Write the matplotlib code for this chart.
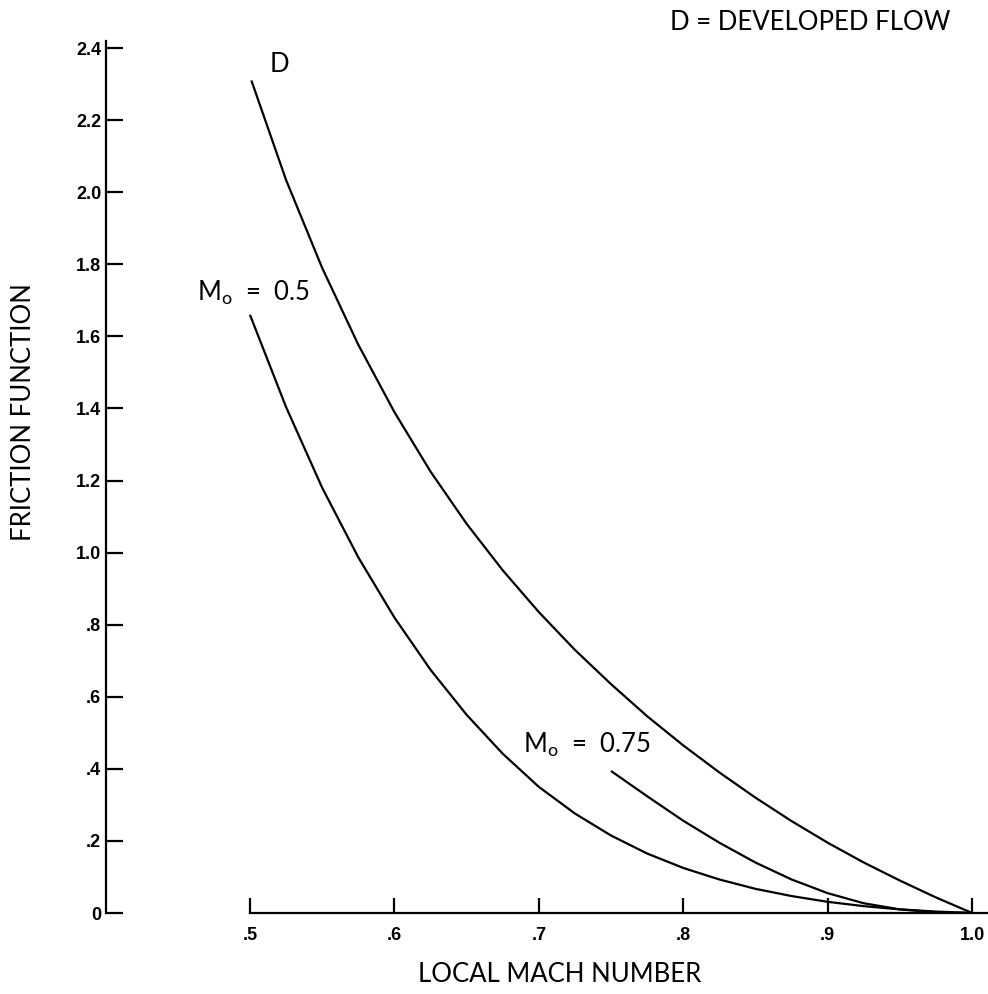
import matplotlib
matplotlib.use('Agg')
import matplotlib.pyplot as plt
from matplotlib.font_manager import FontProperties

# ---- data ----
x_ticks = [0.5, 0.6, 0.7, 0.8, 0.9, 1.0]
x_ticklabels = ['.5', '.6', '.7', '.8', '.9', '1.0']
y_ticks = [0, 0.2, 0.4, 0.6, 0.8, 1.0, 1.2, 1.4, 1.6, 1.8, 2.0, 2.2, 2.4]
y_ticklabels = ['0', '.2', '.4', '.6', '.8', '1.0', '1.2', '1.4', '1.6', '1.8', '2.0', '2.2', '2.4']

# developed flow curve (D)
d_mach = [0.501, 0.525, 0.55, 0.575, 0.60, 0.625, 0.65, 0.675, 0.70, 0.725, 0.75,
          0.775, 0.80, 0.825, 0.85, 0.875, 0.90, 0.925, 0.95, 0.975, 1.0]
d_fric = [2.310, 2.034, 1.790, 1.577, 1.390, 1.225, 1.080, 0.951, 0.835, 0.730, 0.635,
          0.546, 0.465, 0.390, 0.320, 0.255, 0.195, 0.140, 0.090, 0.043, 0.0]

# M_o = 0.5 curve
m05_mach = [0.50, 0.525, 0.55, 0.575, 0.60, 0.625, 0.65, 0.675, 0.70, 0.725, 0.75,
            0.775, 0.80, 0.825, 0.85, 0.875, 0.90, 0.925, 0.95, 0.975, 1.0]
m05_fric = [1.660, 1.404, 1.180, 0.987, 0.820, 0.675, 0.550, 0.442, 0.350, 0.276, 0.215,
            0.165, 0.125, 0.093, 0.067, 0.047, 0.031, 0.019, 0.010, 0.004, 0.0]

# M_o = 0.75 curve
m075_mach = [0.75, 0.775, 0.80, 0.825, 0.85, 0.875, 0.90, 0.925, 0.95, 0.975, 1.0]
m075_fric = [0.394, 0.324, 0.256, 0.195, 0.140, 0.093, 0.055, 0.027, 0.010, 0.002, 0.0]

W, H = 988, 994
fig = plt.figure(figsize=(W / 100, H / 100), dpi=100)
fig.patch.set_facecolor('white')

px_per_x = 1444.4
x_left = 0.4
x_right = x_left + 882.5 / px_per_x
ax = fig.add_axes([105.5 / W, 81 / H, 882.5 / W, 901 / H])
ax.set_xlim(x_left, x_right)
ax.set_ylim(0, 2.5)
ax.patch.set_alpha(0)

for s in ['top', 'right']:
    ax.spines[s].set_visible(False)
ax.spines['left'].set_bounds(0, 2.42)
ax.spines['bottom'].set_bounds(0.5, x_right)
for s in ['left', 'bottom']:
    ax.spines[s].set_linewidth(1.6)
    ax.spines[s].set_color('black')

lw = 1.6
ax.plot(d_mach, d_fric, color='black', lw=lw, solid_capstyle='butt', solid_joinstyle='round')
ax.plot(m05_mach, m05_fric, color='black', lw=lw, solid_capstyle='butt', solid_joinstyle='round')
ax.plot(m075_mach, m075_fric, color='black', lw=lw, solid_capstyle='butt', solid_joinstyle='round')

tick_fp = FontProperties(family=['Liberation Sans', 'DejaVu Sans'], weight='bold', size=13)
ax.set_xticks(x_ticks)
ax.set_xticklabels(x_ticklabels, fontproperties=tick_fp)
ax.set_yticks(y_ticks)
ax.set_yticklabels(y_ticklabels, fontproperties=tick_fp)
ax.tick_params(axis='y', direction='in', length=12, width=1.6, pad=3)
ax.tick_params(axis='x', direction='in', length=10.5, width=1.6, pad=10)

lab_font = ['Lato', 'DejaVu Sans']
fs = 18.5
plt.rcParams['mathtext.fontset'] = 'custom'
plt.rcParams['mathtext.rm'] = 'Lato'
plt.rcParams['mathtext.it'] = 'Lato'

fig.text(24 / W, 1 - 412 / H, 'FRICTION FUNCTION', rotation=90, ha='center', va='center',
         family=lab_font, fontsize=fs)
fig.text(560 / W, 1 - 974 / H, 'LOCAL MACH NUMBER', ha='center', va='center',
         family=lab_font, fontsize=fs)
fig.text(670 / W, 1 - 22 / H, 'D = DEVELOPED FLOW', ha='left', va='center',
         family=lab_font, fontsize=fs)

fig.text(270 / W, 1 - 65 / H, 'D', ha='left', va='center', family=lab_font, fontsize=fs)
fig.text(197 / W, 1 - 293 / H, r'$\mathrm{M_o}$  =  0.5', ha='left', va='center',
         family=lab_font, fontsize=fs)
fig.text(523 / W, 1 - 745 / H, r'$\mathrm{M_o}$  =  0.75', ha='left', va='center',
         family=lab_font, fontsize=fs)

fig.savefig('out.png', dpi=100, facecolor='white')
